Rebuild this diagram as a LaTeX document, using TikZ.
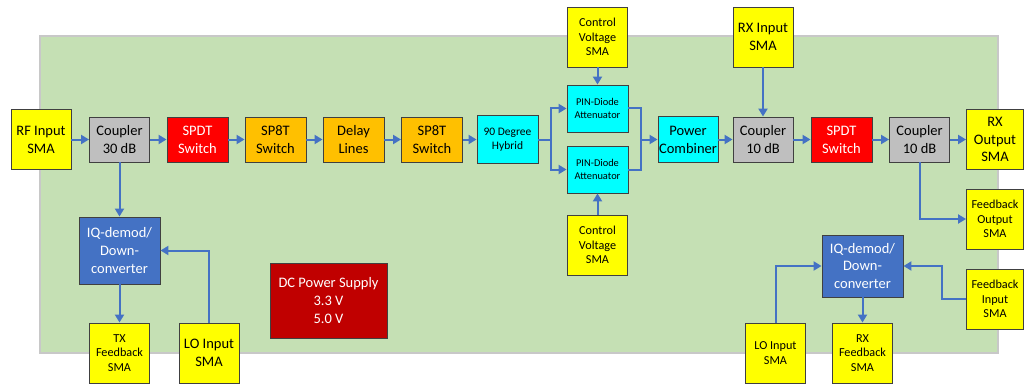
\documentclass[tikz,border=0pt]{standalone}
\usepackage{fontspec}
\setmainfont{Carlito}
\usetikzlibrary{arrows.meta}

\definecolor{board}{HTML}{C5E0B4}
\definecolor{boardedge}{HTML}{C8C8C8}
\definecolor{smayellow}{HTML}{FFFF00}
\definecolor{coupgray}{HTML}{BFBFBF}
\definecolor{swred}{HTML}{FF0000}
\definecolor{swamber}{HTML}{FFC000}
\definecolor{rfcyan}{HTML}{00FFFF}
\definecolor{iqblue}{HTML}{4472C4}
\definecolor{dcred}{HTML}{C00000}
\definecolor{wire}{HTML}{4472C4}

\newcommand{\fbig}{\fontsize{14.5}{17.8}\selectfont}
\newcommand{\fmid}{\fontsize{12.2}{14.7}\selectfont}
\newcommand{\fsmall}{\fontsize{10.4}{13}\selectfont}
\newcommand{\fhyb}{\fontsize{11.5}{13.7}\selectfont}

\tikzset{
  blk/.style={draw=black!75, line width=0.9pt, align=center, inner sep=0pt,
              font=\fbig, text=black},
  sma/.style={blk, fill=smayellow, minimum width=60pt, minimum height=60pt},
  smasm/.style={sma, font=\fmid},
  coup/.style={blk, fill=coupgray, minimum width=60pt, minimum height=45pt},
  spdt/.style={blk, fill=swred, text=white, minimum width=61pt, minimum height=45pt},
  amber/.style={blk, fill=swamber, minimum width=61pt, minimum height=45pt},
  cyanbox/.style={blk, fill=rfcyan},
  iqbox/.style={blk, fill=iqblue, text=white, minimum width=81pt},
  wireline/.style={draw=wire, line width=2pt},
  arr/.style={wireline, -{Triangle[length=8pt,width=9pt]}},
}

\begin{document}
\begin{tikzpicture}[x=1pt, y=-1pt]
\useasboundingbox (0,0) rectangle (1024,385);

% board outline
\filldraw[fill=board, draw=boardedge, line width=2pt] (40,36) rectangle (998,353);

% transmit chain
\node[sma]   (rfin)  at (41,139.5)    {RF Input\\SMA};
\node[coup]  (c30)   at (119.5,139.5) {Coupler\\30 dB};
\node[spdt]  (sw1)   at (197.5,139.5) {SPDT\\Switch};
\node[amber] (sp8a)  at (275.5,139.5) {SP8T\\Switch};
\node[amber] (delay) at (353.5,139.5) {Delay\\Lines};
\node[amber] (sp8b)  at (432,139.5)   {SP8T\\Switch};
\node[cyanbox, font=\fhyb, minimum width=61pt, minimum height=48pt]
             (hyb)   at (507.5,139.5) {90 Degree\\Hybrid};
\node[cyanbox, font=\fsmall, minimum width=61pt, minimum height=47pt]
             (pin1)  at (597.5,108.5) {PIN-Diode\\Attenuator};
\node[cyanbox, font=\fsmall, minimum width=61pt, minimum height=47pt]
             (pin2)  at (597.5,169.5) {PIN-Diode\\Attenuator};
\node[smasm] (cv1)   at (597.5,37)    {Control\\Voltage\\SMA};
\node[smasm] (cv2)   at (597.5,245)   {Control\\Voltage\\SMA};
\node[cyanbox, minimum width=60pt, minimum height=46pt]
             (comb)  at (688,139.5)   {Power\\Combiner};

% receive chain
\node[sma]   (rxin)  at (763,37)      {RX Input\\SMA};
\node[coup]  (c10a)  at (763,139.5)   {Coupler\\10 dB};
\node[spdt]  (sw2)   at (841.5,139.5) {SPDT\\Switch};
\node[coup]  (c10b)  at (919.5,139.5) {Coupler\\10 dB};
\node[sma, minimum width=57pt] (rxout) at (995,139.5) {RX\\Output\\SMA};
\node[smasm, minimum width=57pt] (fbout) at (995,219) {Feedback\\Output\\SMA};
\node[smasm, minimum width=57pt] (fbin)  at (995,299) {Feedback\\Input\\SMA};

% feedback down-converters
\node[iqbox, minimum height=67pt] (iq1) at (119.5,250.5) {IQ-demod/\\Down-\\converter};
\node[smasm] (txfb)  at (119.5,353)   {TX\\Feedback\\SMA};
\node[sma]   (lo1)   at (209,353)     {LO Input\\SMA};
\node[iqbox, minimum height=62pt] (iq2) at (862.5,266) {IQ-demod/\\Down-\\converter};
\node[smasm] (lo2)   at (775.5,353)   {LO Input\\SMA};
\node[smasm] (rxfb)  at (862.5,353)   {RX\\Feedback\\SMA};

% supply
\node[blk, fill=dcred, text=white, minimum width=117pt, minimum height=75pt]
             (dc)    at (328.5,300.5) {DC Power Supply\\3.3 V\\5.0 V};

% branch points around the attenuators
\coordinate (split) at (551,139.5);
\coordinate (merge) at (641,139.5);

% transmit connections
\draw[arr] (rfin) -- (c30);
\draw[arr] (c30) -- (sw1);
\draw[arr] (sw1) -- (sp8a);
\draw[arr] (sp8a) -- (delay);
\draw[arr] (delay) -- (sp8b);
\draw[arr] (sp8b) -- (hyb);
\draw[wireline] (hyb.east) -- (split);
\draw[arr] (split) |- (pin1.west);
\draw[arr] (split) |- (pin2.west);
\draw[wireline] (pin1.east) -| (merge);
\draw[wireline] (pin2.east) -| (merge);
\draw[arr] (merge) -- (comb.west);
\draw[arr] (cv1) -- (pin1);
\draw[arr] (cv2) -- (pin2);
\draw[arr] (comb) -- (c10a);

% receive connections
\draw[arr] (rxin) -- (c10a);
\draw[arr] (c10a) -- (sw2);
\draw[arr] (sw2) -- (c10b);
\draw[arr] (c10b) -- (rxout);
\draw[arr] (c10b.south) |- (fbout.west);
\draw[arr] (fbin.west) -- ++(-24,0) |- (iq2.east);
\draw[arr] (lo2.north) |- (iq2.west);
\draw[arr] (iq2) -- (rxfb);

% transmit feedback path
\draw[arr] (c30) -- (iq1);
\draw[arr] (iq1) -- (txfb);
\draw[arr] (lo1.north) |- (iq1.east);
\end{tikzpicture}
\end{document}
